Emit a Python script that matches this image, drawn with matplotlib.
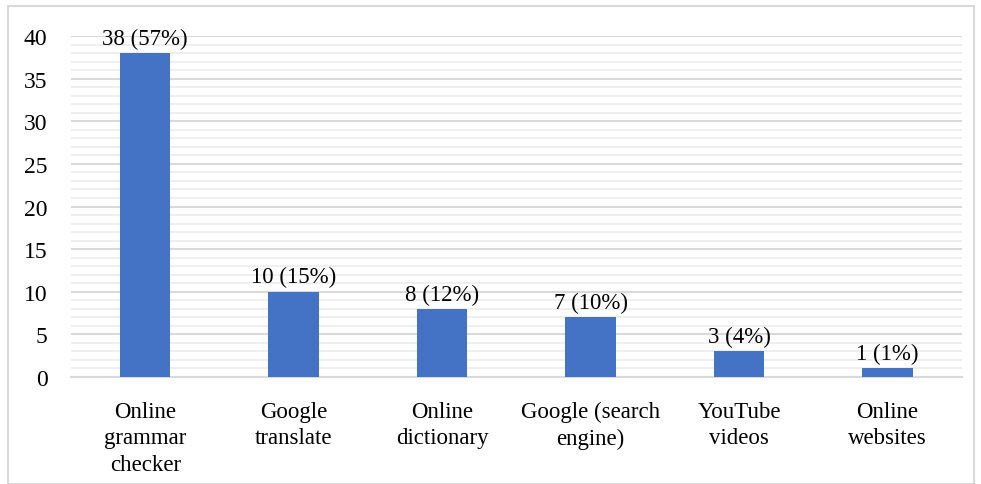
import matplotlib.pyplot as plt
import matplotlib.patches as patches
from matplotlib.ticker import MultipleLocator

categories = ["Online\ngrammar\nchecker", "Google\ntranslate", "Online\ndictionary",
              "Google (search\nengine)", "YouTube\nvideos", "Online\nwebsites"]
counts = [38, 10, 8, 7, 3, 1]
percents = [57, 15, 12, 10, 4, 1]

plt.rcParams['font.family'] = ['Liberation Serif', 'DejaVu Serif']

fig = plt.figure(figsize=(9.81, 4.85), dpi=100)
ax = fig.add_axes([0.0724, 0.2206, 0.908, 0.703])

# outer chart frame
fig.patches.append(patches.Rectangle((0.008, 0.0), 0.985, 0.985, transform=fig.transFigure,
                                     fill=False, edgecolor='#d9d9d9', linewidth=1.5))

x = range(len(categories))
bars = ax.bar(x, counts, width=0.34, color='#4472c4', zorder=3)
for b, c, p in zip(bars, counts, percents):
    ax.text(b.get_x() + b.get_width() / 2, c + 0.5, f"{c} ({p}%)",
            ha='center', va='bottom', fontsize=16.5)

ax.set_xlim(-0.5, len(categories) - 0.5)
ax.set_ylim(0, 40)
ax.yaxis.set_major_locator(MultipleLocator(5))
ax.yaxis.set_minor_locator(MultipleLocator(1))
ax.grid(axis='y', which='major', color='#d9d9d9', linewidth=1.5, zorder=0)
ax.grid(axis='y', which='minor', color='#ececec', linewidth=1.2, zorder=0)
ax.set_axisbelow(True)

ax.set_xticks(list(x))
ax.set_xticklabels(categories, fontsize=16.5, linespacing=1.35)
ax.tick_params(axis='y', labelsize=17, length=0, pad=17, which='both')
ax.tick_params(axis='x', length=0, pad=17)
for s in ['top', 'right', 'left']:
    ax.spines[s].set_visible(False)
ax.spines['bottom'].set_color('#d9d9d9')
ax.spines['bottom'].set_linewidth(1.5)

fig.savefig('out.png', dpi=100)
